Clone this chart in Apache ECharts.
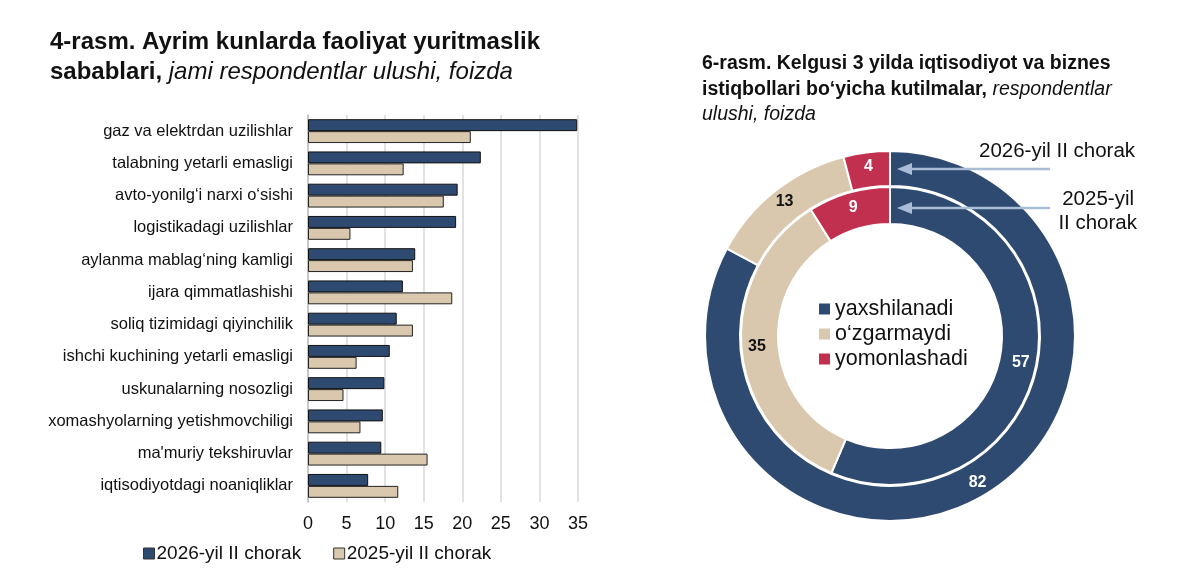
<!DOCTYPE html>
<html><head><meta charset="utf-8">
<script src="https://cdn.jsdelivr.net/npm/echarts@6/dist/echarts.min.js"></script>
<style>html,body{margin:0;padding:0;background:#fff}#c{width:1200px;height:588px}</style>
</head><body><div id="c"></div>
<script>
const categories = ["gaz va elektrdan uzilishlar","talabning yetarli emasligi","avto-yonilg‘i narxi o‘sishi","logistikadagi uzilishlar","aylanma mablag‘ning kamligi","ijara qimmatlashishi","soliq tizimidagi qiyinchilik","ishchi kuchining yetarli emasligi","uskunalarning nosozligi","xomashyolarning yetishmovchiligi","ma'muriy tekshiruvlar","iqtisodiyotdagi noaniqliklar"];
const barSeriesNames = ["2026-yil II chorak","2025-yil II chorak"];
const values2026 = [34.9,22.4,19.4,19.2,13.9,12.3,11.5,10.6,9.9,9.7,9.5,7.8];
const values2025 = [21.1,12.4,17.6,5.5,13.6,18.7,13.6,6.3,4.6,6.8,15.5,11.7];
const xTicks = {min:0,max:35,interval:5};
const donutNames = ["yaxshilanadi","o‘zgarmaydi","yomonlashadi"];
const donut2026 = [82,13,4];
const donut2025 = [57,35,9];

const NAVY='#2f4a70', BEIGE='#d9c8ad', RED='#c2304f';
const FONT='Liberation Sans, Arial, sans-serif';
const donutColors=[NAVY,BEIGE,RED];
const labelColors=['#fff','#111','#fff'];
function donutData(vals){return vals.map((v,i)=>({name:donutNames[i],value:v,itemStyle:{color:donutColors[i]},label:{color:labelColors[i]}}));}

const chart = echarts.init(document.getElementById('c'),null,{renderer:'canvas'});
chart.setOption({
  animation:false,
  textStyle:{fontFamily:FONT},
  title:[
    {left:45,top:22,text:'4-rasm. Ayrim kunlarda faoliyat yuritmaslik\n{b|sabablari,} {i|jami respondentlar ulushi, foizda}',
     textStyle:{fontFamily:FONT,fontSize:24,fontWeight:'bold',color:'#111',lineHeight:30,
       rich:{b:{fontFamily:FONT,fontSize:24,fontWeight:'bold',color:'#111',lineHeight:30},i:{fontFamily:FONT,fontSize:24,fontStyle:'italic',fontWeight:'normal',color:'#111',lineHeight:30}}}},
    {left:697,top:46,text:'6-rasm. Kelgusi 3 yilda iqtisodiyot va biznes\n{b|istiqbollari bo‘yicha kutilmalar,} {i|respondentlar}\n{i|ulushi, foizda}',
     textStyle:{fontFamily:FONT,fontSize:19.5,fontWeight:'bold',color:'#111',lineHeight:25.5,
       rich:{b:{fontFamily:FONT,fontSize:19.5,fontWeight:'bold',color:'#111',lineHeight:25.5},i:{fontFamily:FONT,fontSize:19.5,fontStyle:'italic',fontWeight:'normal',color:'#111',lineHeight:25.5}}}}
  ],
  legend:[
    {data:barSeriesNames,left:138,top:539,itemWidth:11,itemHeight:11,itemGap:32,icon:'rect',
     itemStyle:{borderColor:'#333',borderWidth:1},
     textStyle:{fontFamily:FONT,fontSize:19,color:'#111',padding:[0,0,0,-3]}},
    {data:donutNames,orient:'vertical',left:814,top:293,itemWidth:11,itemHeight:11,itemGap:3,icon:'rect',
     itemStyle:{borderWidth:0},
     textStyle:{fontFamily:FONT,fontSize:21.5,color:'#111'}}
  ],
  grid:{left:308,right:622,top:115,bottom:86,containLabel:false},
  xAxis:{type:'value',min:xTicks.min,max:xTicks.max,interval:xTicks.interval,
    axisLine:{show:false},axisTick:{show:false},
    axisLabel:{fontFamily:FONT,fontSize:18,color:'#111',margin:13},
    splitLine:{show:true,lineStyle:{color:'#d9d9d9',width:1.5}}},
  yAxis:{type:'category',data:categories,inverse:true,
    axisLine:{show:true,lineStyle:{color:'#bfbfbf',width:1.5}},axisTick:{show:false},
    axisLabel:{fontFamily:FONT,fontSize:16.5,color:'#111',margin:15}},
  series:[
    {type:'bar',name:barSeriesNames[0],data:values2026,barGap:'0%',barCategoryGap:'26%',
     itemStyle:{color:NAVY,borderColor:'#111',borderWidth:1}},
    {type:'bar',name:barSeriesNames[1],data:values2025,barGap:'0%',barCategoryGap:'26%',
     itemStyle:{color:BEIGE,borderColor:'#222',borderWidth:1}},
    {type:'pie',name:'2026',center:[890,336],radius:[150,185],startAngle:90,clockwise:true,
     avoidLabelOverlap:false,
     itemStyle:{borderColor:'#fff',borderWidth:2},
     label:{show:true,position:'inside',formatter:'{c}',fontFamily:FONT,fontSize:16,fontWeight:'bold'},
     labelLine:{show:false},
     data:donutData(donut2026)},
    {type:'pie',name:'2025',center:[890,336],radius:[112,149],startAngle:90,clockwise:true,
     avoidLabelOverlap:false,
     itemStyle:{borderColor:'#fff',borderWidth:2},
     label:{show:true,position:'inside',formatter:'{c}',fontFamily:FONT,fontSize:16,fontWeight:'bold'},
     labelLine:{show:false},
     data:donutData(donut2025)}
  ],
  graphic:[
    {type:'line',shape:{x1:1050,y1:169,x2:905,y2:169},style:{stroke:'#a9bdd6',lineWidth:2.5},z:100},
    {type:'polygon',shape:{points:[[897,169],[912,163],[912,175]]},style:{fill:'#a9bdd6'},z:100},
    {type:'line',shape:{x1:1050,y1:208,x2:905,y2:208},style:{stroke:'#a9bdd6',lineWidth:2.5},z:100},
    {type:'polygon',shape:{points:[[897,208],[912,202],[912,214]]},style:{fill:'#a9bdd6'},z:100},
    {type:'text',left:979,top:141,style:{text:'2026-yil II chorak',font:'20.5px '+FONT,fill:'#111'}},
    {type:'text',style:{x:1134,y:199,text:'2025-yil',font:'20.5px '+FONT,fill:'#111',align:'right',verticalAlign:'middle'}},
    {type:'text',style:{x:1137,y:223,text:'II chorak',font:'20.5px '+FONT,fill:'#111',align:'right',verticalAlign:'middle'}}
  ]
});
</script></body></html>
